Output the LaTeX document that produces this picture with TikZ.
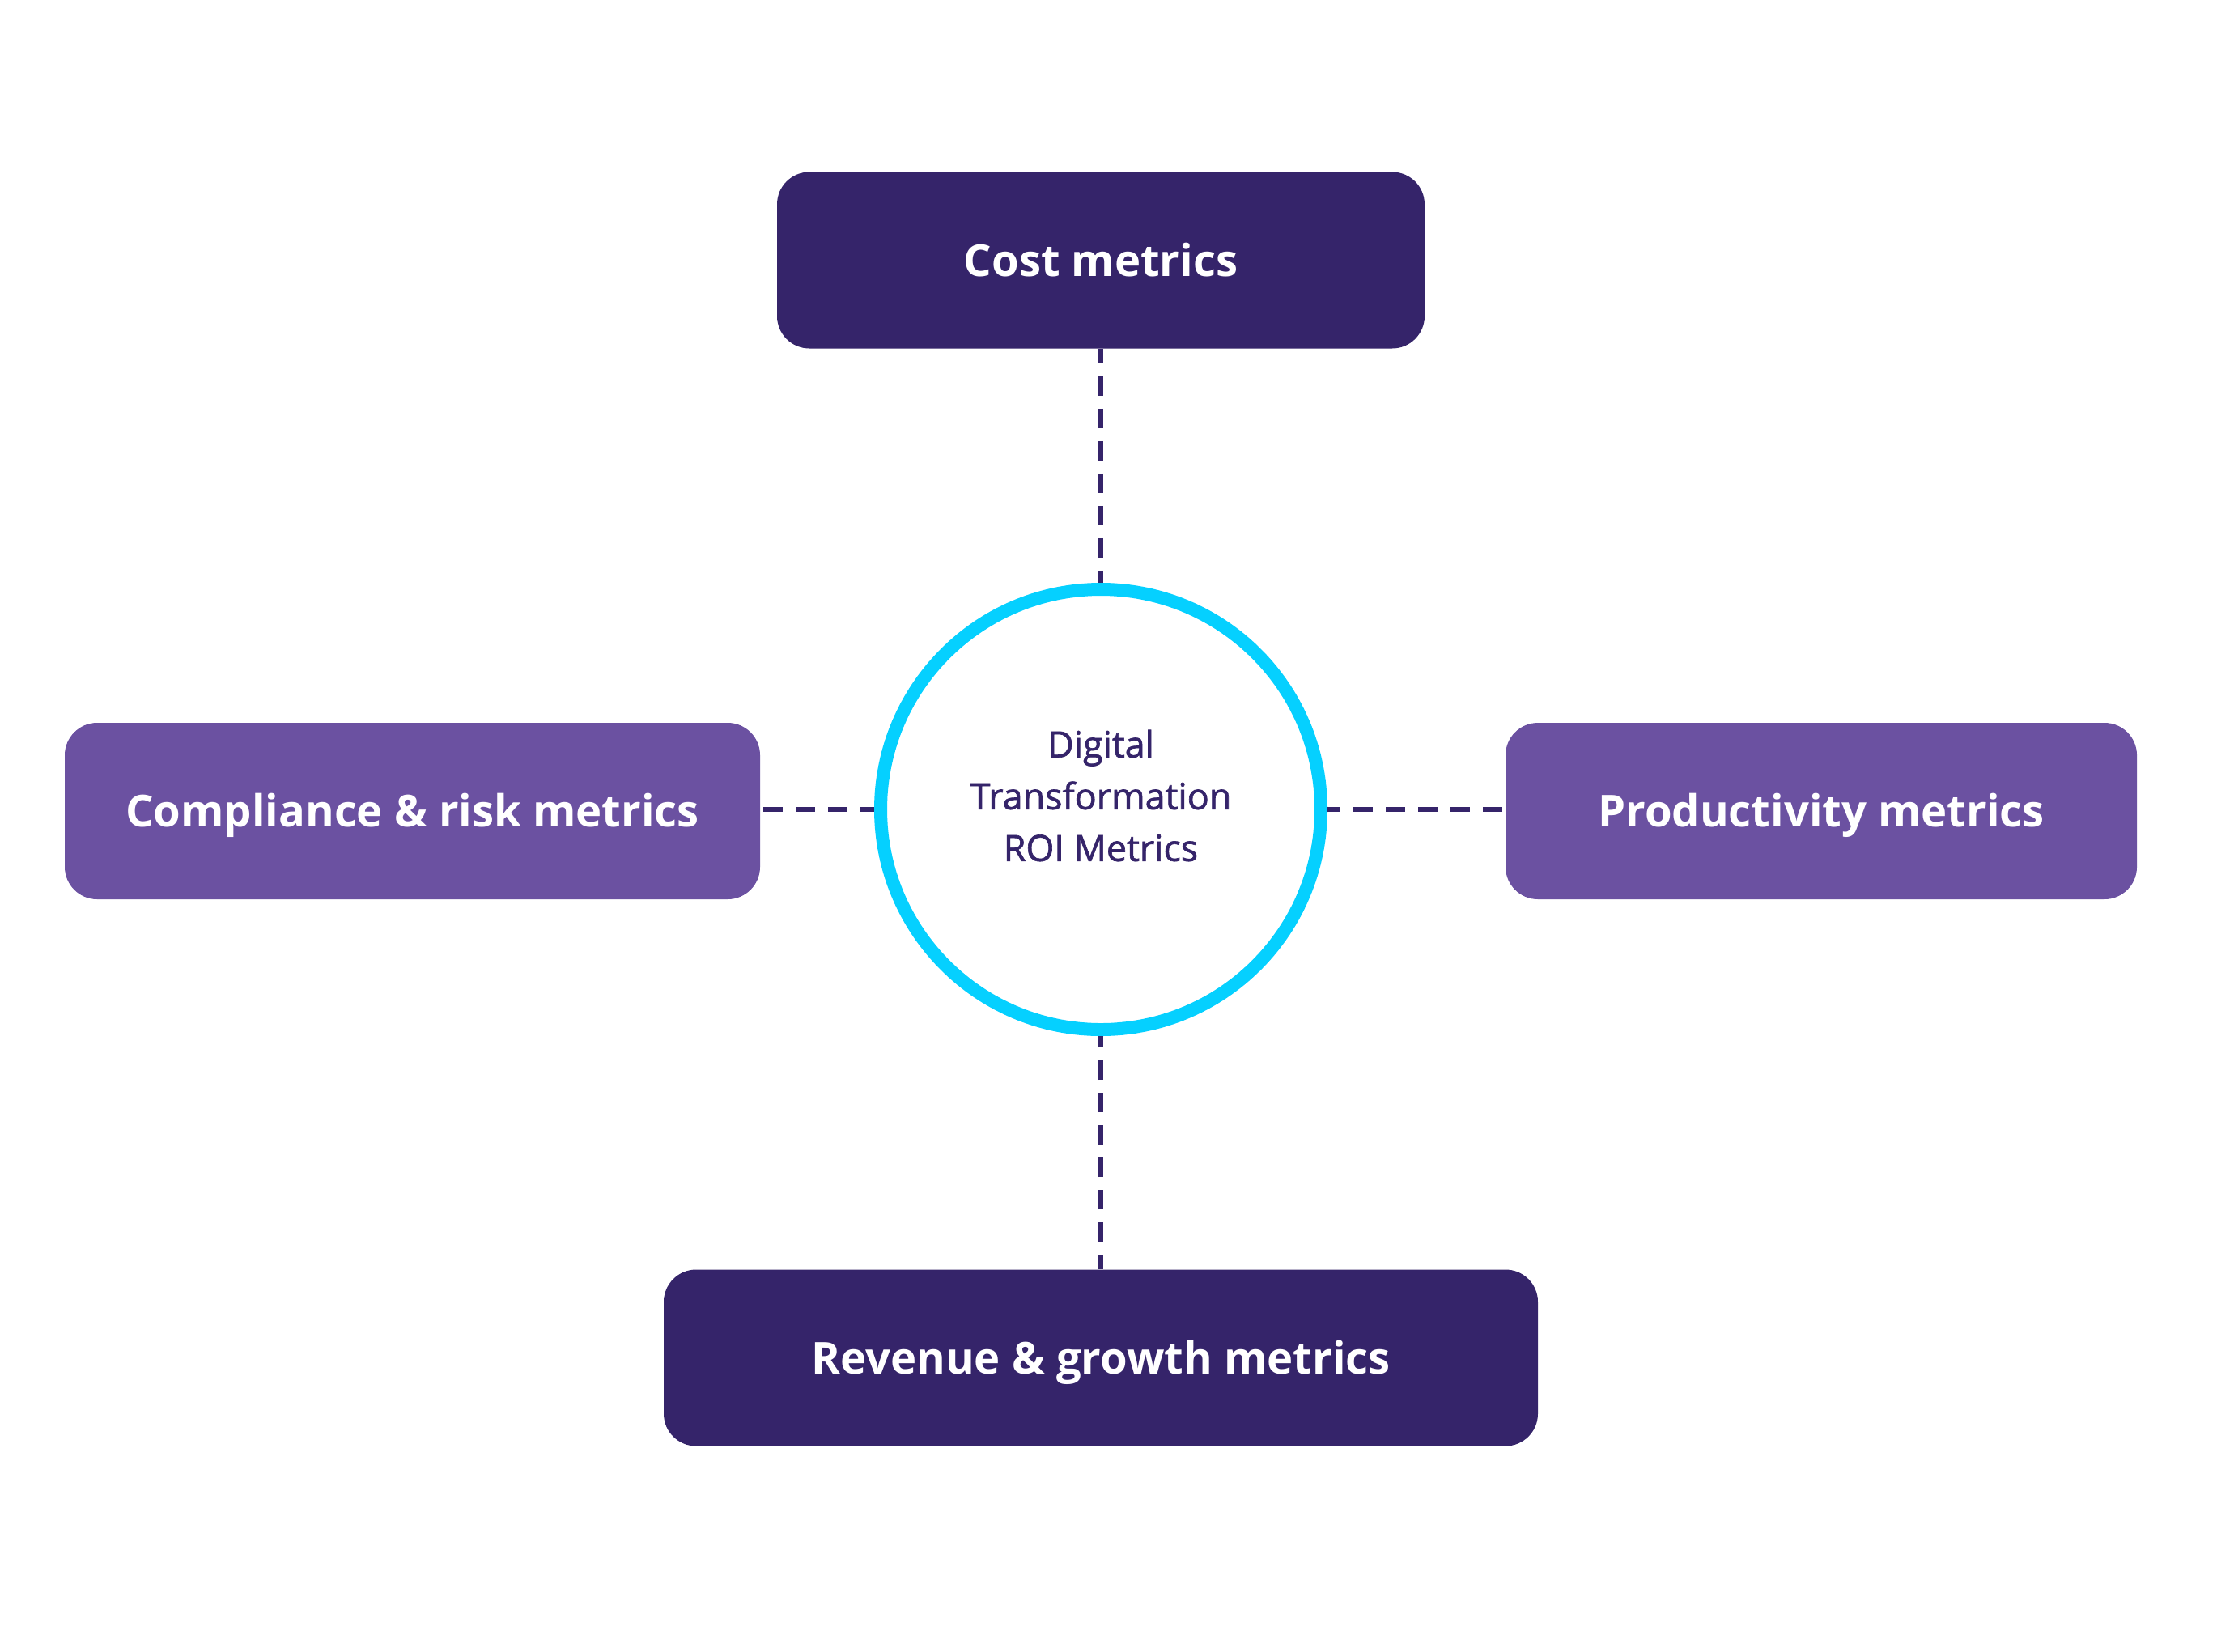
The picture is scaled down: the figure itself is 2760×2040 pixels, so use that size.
\documentclass[tikz,border=0pt]{standalone}
\usepackage{fontspec}
\setmainfont{Open Sans}
\newfontfamily\hubfont{Open Sans}
\definecolor{deeppurple}{HTML}{35246A}
\definecolor{softpurple}{HTML}{6B51A1}
\definecolor{ringcyan}{HTML}{05D0FF}
\begin{document}
\begin{tikzpicture}[x=0.5pt,y=-0.5pt,
  metricbox/.style={rounded corners=20pt, minimum height=109pt, inner sep=0pt,
    text=white, font=\bfseries\fontsize{27.2}{32}\selectfont,
    text height=19.5pt, text depth=0pt},
  darkbox/.style={metricbox, fill=deeppurple},
  lightbox/.style={metricbox, fill=softpurple},
  hubring/.style={circle, draw=ringcyan, line width=8pt, fill=white,
    minimum size=272pt, inner sep=0pt},
  hublabel/.style={align=center, text=deeppurple,
    font=\hubfont\addfontfeature{FakeBold=1.4}\fontsize{22.4}{32}\selectfont},
  link/.style={draw=deeppurple, line width=3pt, dash pattern=on 12pt off 8pt}
]
\useasboundingbox (0,0) rectangle (2760,2040);

% central hub
\node[hubring] (hub) at (1360,1000) {};
\node[hublabel] (hubtext) at (1360,983) {Digital\\Transformation\\ROI Metrics};

% four metric groups
\node[darkbox, minimum width=400pt] (cost) at (1360,321.5) {Cost metrics};
\node[lightbox, minimum width=429.5pt] (risk) at (509.5,1002) {Compliance \& risk metrics};
\node[lightbox, minimum width=390pt] (prod) at (2250,1002) {Productivity metrics};
\node[darkbox, minimum width=540pt] (rev) at (1360,1677.5) {Revenue \& growth metrics};

% dashed links to the hub
\draw[link, dash phase=3pt] (cost.south) -- (cost.south |- hub.north);
\draw[link, dash phase=3pt] (rev.north) -- (rev.north |- hub.south);
\draw[link, dash phase=18pt] (risk.east |- hub.center) -- (hub.west);
\draw[link, dash phase=18pt] (prod.west |- hub.center) -- (hub.east);
\end{tikzpicture}
\end{document}
